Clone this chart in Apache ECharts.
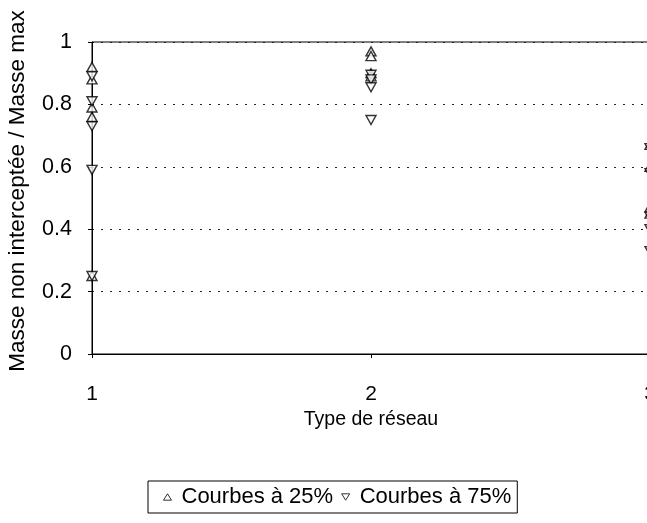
<!DOCTYPE html>
<html><head><meta charset="utf-8">
<script src="https://cdn.jsdelivr.net/npm/echarts@6/dist/echarts.min.js"></script>
<style>html,body{margin:0;padding:0;background:#fff}#c{width:647px;height:523px}</style>
</head><body><div id="c"></div>
<script>
const seriesNames = ['Courbes à 25%', 'Courbes à 75%'];
const xTypes25 = [1,1,1,1,1, 2,2,2,2, 3,3,3,3];
const vals25   = [0.92,0.88,0.79,0.76,0.25, 0.97,0.955,0.90,0.89, 0.67,0.60,0.47,0.45];
const xTypes75 = [1,1,1,1,1, 2,2,2,2, 3,3,3,3,3];
const vals75   = [0.89,0.81,0.73,0.59,0.25, 0.895,0.88,0.855,0.75, 0.66,0.58,0.44,0.40,0.33];
const yTicks = [0,0.2,0.4,0.6,0.8,1];

const font = 'Liberation Sans, Arial, sans-serif';
const chart = echarts.init(document.getElementById('c'), null, {renderer:'canvas'});
const mk = (xs, vs) => xs.map((x,i)=>[x, vs[i]]);
const mstyle = {color:'#fff', borderColor:'#000', borderWidth:1.4};
const upIcon = 'path://M5,0 L10,8 L0,8 Z';
const downIcon = 'path://M0,0 L10,0 L5,8 Z';
chart.setOption({
  animation:false,
  backgroundColor:'#fff',
  grid:{left:92, right:-3, top:42, bottom:169, outerBoundsMode:'none', containLabel:false,
    show:true, borderColor:'#000', borderWidth:1, backgroundColor:'transparent'},
  xAxis:{type:'value', min:1, max:3, interval:1,
    name:'Type de réseau', nameLocation:'middle', nameGap:52,
    nameTextStyle:{fontFamily:font, fontSize:19.5, color:'#000'},
    axisLine:{lineStyle:{color:'#000', width:1}},
    axisTick:{show:true, length:4, lineStyle:{color:'#000'}},
    axisLabel:{fontFamily:font, fontSize:21, color:'#000', margin:30},
    splitLine:{show:false}},
  yAxis:{type:'value', min:0, max:1, interval:0.2,
    name:'Masse non interceptée / Masse max', nameLocation:'middle', nameGap:63,
    nameTextStyle:{fontFamily:font, fontSize:22.5, color:'#000', padding:[0,0,0,14]},
    axisLine:{show:true, lineStyle:{color:'#000', width:1}},
    axisTick:{show:true, length:4, lineStyle:{color:'#000'}},
    axisLabel:{fontFamily:font, fontSize:21.5, color:'#000', margin:20,
      formatter:v=>{const t=yTicks.find(k=>Math.abs(k-v)<1e-9);return String(t);}},
    splitLine:{show:true, lineStyle:{color:'#222', type:[2,7], width:1.2}}},
  legend:{top:481, left:148, orient:'horizontal',
    data:[{name:seriesNames[0], icon:upIcon},{name:seriesNames[1], icon:downIcon}],
    borderColor:'#000', borderWidth:1, borderRadius:0,
    padding:[5,6,5,15], itemWidth:8, itemHeight:7, itemGap:8,
    itemStyle:{color:'#fff', borderColor:'#000', borderWidth:1},
    textStyle:{fontFamily:font, fontSize:22, color:'#000', padding:[0,0,0,5]}},
  series:[
    {name:seriesNames[0], type:'scatter', symbol:'triangle', symbolSize:[10,9],
     itemStyle:mstyle, data:mk(xTypes25, vals25)},
    {name:seriesNames[1], type:'scatter', symbol:'triangle', symbolRotate:180, symbolSize:[10,9],
     itemStyle:mstyle, data:mk(xTypes75, vals75)}
  ]
});
</script></body></html>
